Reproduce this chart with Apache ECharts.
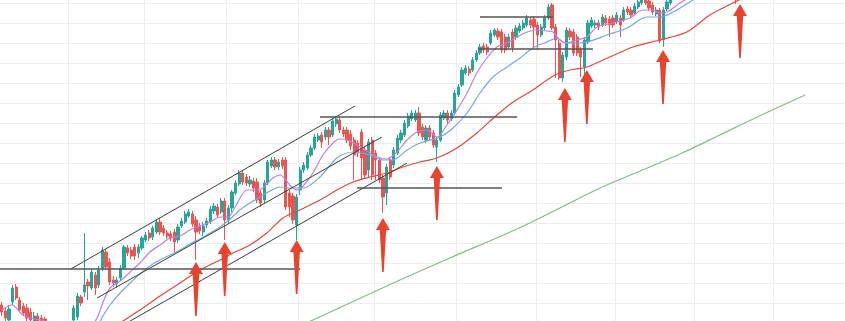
<!DOCTYPE html>
<html><head><meta charset="utf-8">
<script src="https://cdn.jsdelivr.net/npm/echarts@6/dist/echarts.min.js"></script>
<style>html,body{margin:0;padding:0;background:#fff;overflow:hidden}#c{width:845px;height:321px}</style>
</head><body><div id="c"></div>
<script>
// number of trading-day slots on the time axis
const N = 235;
const categories = Array.from({length: N}, (_, i) => 'D' + (i + 1));
// vertical gridlines (month starts), as slot indices
const monthStarts = [19, 40, 63, 83, 104, 127, 149, 171, 193, 215];

// candles: [open, close, low, high]
const candles = [
[18,11,7,21],[12,5,1,15],[3,14,-1,18],[21,35,18,38],[36,25,23,39],[23,13,11,26],[17,10,7,20],[15,5,1,19],[11,3,-2,15],[1,7,-3,11],
[7,1,-3,10],[5,-3,-7,8],[4,-5,-9,6],[-3,-12,-15,1],[-11,-19,-22,-7],[-19,-27,-31,-15],[-27,-17,-33,-14],[-17,-25,-29,-12],[-25,-12,-29,-9],[-13,-2,-17,1],
[3,15,0,18],[6,27,3,30],[26,20,17,28],[31,38,26,90],[41,37,23,44],[35,51,33,54],[48,35,28,51],[38,53,35,57],[55,73,52,76],[71,56,53,74],
[61,41,38,65],[43,40,36,47],[39,43,35,46],[45,55,42,58],[55,76,53,78],[75,70,67,78],[73,67,64,76],[76,67,63,79],[70,76,65,79],[75,85,73,87],
[83,88,81,91],[90,85,82,93],[86,95,83,97],[91,101,89,104],[101,91,88,105],[95,90,87,98],[90,87,84,93],[89,85,82,92],[91,81,71,94],[83,96,80,99],
[97,102,95,105],[101,109,99,112],[107,111,105,114],[109,99,96,112],[103,91,63,107],[97,92,89,100],[91,97,87,101],[98,102,95,105],[101,114,99,117],[112,117,109,120],
[116,108,105,119],[111,122,109,125],[122,103,83,125],[103,115,99,118],[115,131,111,133],[130,140,128,143],[139,150,137,153],[150,141,138,153],[146,140,137,149],[139,143,136,147],
[142,135,131,145],[141,123,120,145],[130,120,116,133],[123,140,120,143],[140,161,138,163],[157,163,155,166],[163,156,153,166],[156,161,153,164],[163,157,154,166],[163,116,113,166],
[130,116,106,133],[127,103,99,130],[98,126,83,129],[133,153,128,156],[153,158,150,161],[155,168,153,171],[168,175,166,178],[175,186,173,189],[183,187,181,190],[188,181,175,191],
[186,193,183,196],[193,186,178,196],[188,202,186,205],[199,204,196,207],[203,193,190,206],[193,189,186,196],[193,183,180,196],[189,177,173,193],[183,168,143,186],[180,170,166,183],
[191,165,143,194],[173,148,145,176],[153,181,145,184],[183,148,143,186],[170,163,143,173],[163,143,140,166],[145,126,110,148],[130,156,118,159],[163,146,143,166],[158,173,155,176],
[170,185,168,188],[183,190,180,193],[188,200,186,203],[197,207,195,210],[204,210,202,213],[203,210,201,213],[210,190,187,216],[196,186,183,199],[183,195,180,198],[195,186,183,198],
[190,178,175,193],[176,183,161,186],[183,208,181,211],[205,210,203,213],[210,203,200,213],[204,210,202,213],[210,230,208,233],[228,236,226,239],[238,253,236,256],[250,255,248,258],
[254,250,247,257],[253,263,251,266],[263,270,261,273],[270,276,268,279],[277,273,270,280],[276,271,268,279],[280,290,278,293],[288,293,286,295],[292,286,283,295],[291,273,270,294],
[286,273,270,289],[276,286,273,289],[291,275,271,294],[286,295,283,298],[292,297,290,300],[295,300,293,303],[298,305,296,308],[303,298,295,306],[304,296,275,307],[298,288,273,301],
[288,296,286,299],[295,305,293,308],[305,316,303,319],[318,295,293,320],[296,283,245,299],[280,245,243,283],[245,268,241,271],[266,293,263,296],[292,286,283,295],[291,270,267,294],
[286,270,267,289],[273,266,246,276],[256,283,248,286],[281,300,279,303],[297,303,295,306],[298,300,295,303],[300,296,293,303],[298,306,296,309],[305,300,297,308],[304,298,286,307],
[305,298,295,308],[301,308,299,311],[305,298,286,308],[303,313,301,316],[314,311,308,317],[313,308,305,316],[310,317,308,320],[316,321,314,324],[320,325,318,328],[325,320,318,328],
[322,315,312,325],[318,311,308,321],[309,313,307,316],[313,282,280,315],[283,313,276,316],[314,321,312,325],[320,326,318,329],[325,331,323,334],[331,336,328,339],[336,333,330,340],
[333,340,331,343],[340,345,338,348],[345,342,339,349],[342,348,340,351],[348,352,345,355],[352,347,344,355],[347,343,340,350],[343,338,334,346],[338,341,335,344],[341,336,332,343],
[336,331,328,339],[331,333,327,336],[333,329,326,336],[329,334,326,337],[334,327,319,336],[327,335,325,338]
];

// moving averages: [slot, value]
const maFast = [[0.1,13],[2.8,18],[5.9,8],[9.2,4],[12.6,1],[16.2,-12],[21.7,-14],[24.5,-5],[26.5,5],[28.4,23],[30.1,35],[32.9,42],[35.7,51],[38.4,60],[41.2,71],[44,78],[46.8,85],[49.6,87],[52.3,93],[55.1,97],[57.9,101],[60.7,106],[62.9,106],[64.9,116],[68.2,133],[71,133],[72.6,135],[75.4,145],[77.4,148],[80.1,138],[82.1,133],[83.8,137],[86.5,150],[89.3,168],[92.1,180],[94,184],[96,183],[98.8,178],[102.4,170],[105.2,165],[107.1,164],[109.9,171],[112.7,183],[115.5,191],[118.2,193],[121,186],[123.8,198],[126.6,213],[129.4,230],[132.1,250],[134.9,265],[137.7,276],[140.5,280],[143.3,286],[146.1,291],[148.8,293],[151.6,292],[153.3,291],[155.2,283],[157.2,280],[159.9,283],[162.7,286],[165.5,296],[170,300],[174.7,305],[178.3,313],[181.1,313],[183,310],[185,311],[188.6,320],[191.4,326],[195.5,335]];
const maMid = [[0,-7],[13.4,-12],[26.5,-2],[28.1,7],[30.1,18],[32.9,30],[35.7,40],[38.4,49],[41.2,57],[44,63],[46.8,68],[49.6,73],[52.3,79],[55.1,84],[57.9,90],[60.7,96],[63.5,104],[66.2,113],[69,120],[71.8,126],[74.6,132],[77.4,136],[80.1,135],[83.8,135],[88.5,146],[93.2,165],[97.7,171],[102.4,168],[106,163],[108.8,163],[112.7,173],[116.3,180],[121.9,186],[125.5,195],[129.4,210],[133,230],[136.6,246],[140.5,256],[144.1,265],[147.7,275],[151.6,281],[154.4,285],[156.1,281],[158.8,280],[162.7,281],[168.3,288],[173.9,295],[179.4,306],[183,306],[186.7,311],[192.2,323],[197,333]];
const maSlow = [[27.3,-12],[33.7,2],[38.4,13],[44.8,29],[49.6,40],[55.1,53],[60.7,63],[64.3,70],[69,78],[73.7,90],[78.2,105],[82.9,113],[88.5,123],[93.2,133],[97.7,141],[102.4,146],[107.1,150],[111.6,156],[116.3,161],[121,165],[126.6,175],[132.1,190],[137.7,208],[142.2,221],[147.7,233],[151.6,243],[154.4,249],[158,253],[162.7,256],[169.1,266],[175.5,276],[183,283],[190.5,291],[196.9,308],[203.3,320],[210.8,333]];
const maLong = [[82.9,-3],[96.8,20],[110.7,43],[124.6,65],[143.3,94],[155.2,115],[166.4,135],[177.5,152],[188.6,169],[199.7,188],[208.9,204],[223.4,228]];

// drawn channel lines and support/resistance levels: [[slot, value],[slot, value]]
const channelLines = [
  [[19.2,54],[98.2,217]],
  [[26.5,25],[105.7,186]],
  [[32.3,-5],[112.7,160]]
];
const levelLines = [
  [[-0.5,54],[83,54]],
  [[88.5,206],[143.3,206]],
  [[98.8,135],[139.1,135]],
  [[133,306],[153.3,306]],
  [[132.4,274],[164.4,274]]
];
// arrows: [slot, tip value]
const arrows = [[54,61],[62,81],[82,83],[106,105],[121,157],[156.6,235],[162.7,253],[183.9,273],[205.3,319]];

const chart = echarts.init(document.getElementById('c'), null, {renderer: 'canvas'});
const series = [
  {type: 'candlestick', xAxisIndex: 0, yAxisIndex: 0, data: candles, barWidth: '76%', clip: true, z: 3,
   itemStyle: {color: '#26a69a', color0: '#ef5350', borderColor: '#26a69a', borderColor0: '#ef5350', borderWidth: 1}},
];
const maDefs = [[maLong, '#7fc07d', 1.2], [maSlow, '#e5473b', 1.2], [maMid, '#6fa8f0', 1.2], [maFast, '#c07ee8', 1.2]];
maDefs.forEach(([d, c, w]) => series.push({type: 'line', xAxisIndex: 1, data: d, smooth: 0.3, showSymbol: false,
  lineStyle: {color: c, width: w}, z: 4, clip: true, silent: true}));
channelLines.forEach(d => series.push({type: 'line', xAxisIndex: 1, data: d, showSymbol: false,
  lineStyle: {color: '#3d3d3d', width: 1}, z: 5, clip: true, silent: true}));
levelLines.forEach(d => series.push({type: 'line', xAxisIndex: 1, data: d, showSymbol: false,
  lineStyle: {color: '#555555', width: 1.6}, z: 5, clip: true, silent: true}));
series.push({type: 'scatter', xAxisIndex: 1, data: arrows, z: 10, clip: false,
  symbol: 'path://M7,0 L14,12 L10.2,12 L7.8,54 L6.2,54 L3.8,12 L0,12 Z',
  symbolSize: [14, 54], symbolOffset: [0, '50%'], symbolKeepAspect: false,
  itemStyle: {color: '#e9432d', opacity: 1}});

chart.setOption({
  animation: false,
  backgroundColor: '#ffffff',
  grid: {left: 0, right: 0, top: -17, height: 340, outerBoundsMode: 'none', containLabel: false},
  xAxis: [
    {type: 'category', data: categories, boundaryGap: true,
     axisLine: {show: false}, axisTick: {show: false}, axisLabel: {show: false},
     splitLine: {show: true, interval: (i) => monthStarts.indexOf(i) >= 0, lineStyle: {color: '#ededed', width: 1}}},
    {type: 'value', min: -0.5, max: N - 0.5, show: false}
  ],
  yAxis: [{type: 'value', min: 0, max: 340, interval: 20,
     axisLine: {show: false}, axisTick: {show: false}, axisLabel: {show: false},
     splitLine: {show: true, lineStyle: {color: '#ededed', width: 1}}}],
  series: series
});
</script>
</body></html>
